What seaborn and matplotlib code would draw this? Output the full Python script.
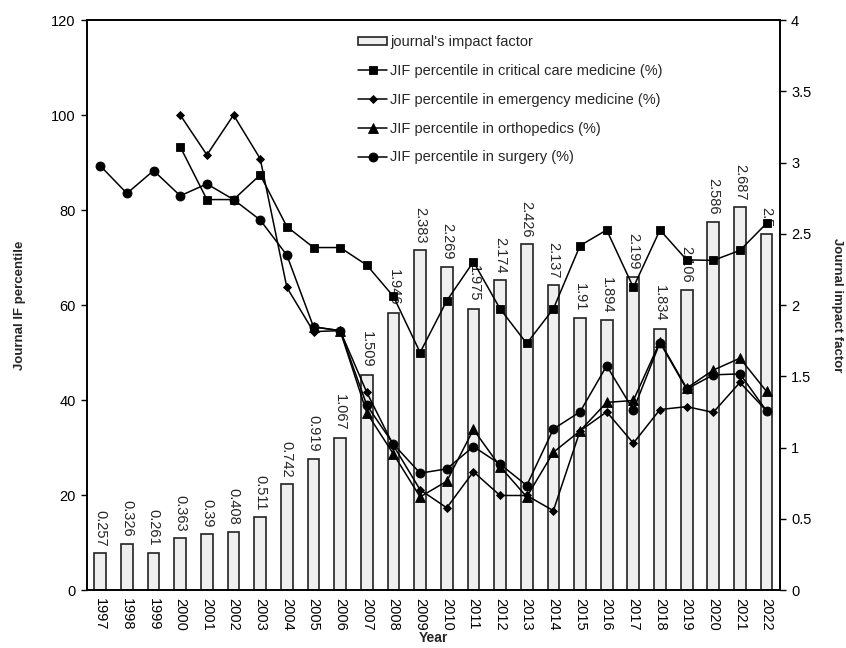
import numpy as np
import pandas as pd
import matplotlib
matplotlib.use("Agg")
import matplotlib.pyplot as plt
from matplotlib.ticker import FuncFormatter, MultipleLocator
import seaborn as sns

# ---- data -----------------------------------------------------------------
years = list(range(1997, 2023))

impact_factor = [0.257, 0.326, 0.261, 0.363, 0.39, 0.408, 0.511, 0.742, 0.919,
                 1.067, 1.509, 1.946, 2.383, 2.269, 1.975, 2.174, 2.426, 2.137,
                 1.91, 1.894, 2.199, 1.834, 2.106, 2.586, 2.687, 2.5]

critical_care = [None, None, None, 93.3, 82.2, 82.2, 87.4, 76.5, 72.1, 72.1,
                 68.4, 61.8, 50.0, 60.9, 69.1, 59.2, 51.9, 59.2, 72.5, 75.8,
                 63.7, 75.8, 69.5, 69.4, 71.5, 77.2]

emergency_medicine = [None, None, None, 100.0, 91.6, 100.0, 90.8, 63.7, 54.4,
                      54.6, 41.6, 30.4, 21.1, 17.3, 24.9, 19.9, 19.9, 16.7,
                      33.5, 37.5, 30.9, 38.0, 38.6, 37.4, 43.7, 37.7]

orthopedics = [None, None, None, None, None, None, None, None, 55.4, 54.6,
               37.3, 28.6, 19.6, 22.9, 33.8, 26.0, 19.6, 29.0, 33.5, 39.5,
               39.9, 52.3, 42.5, 46.3, 48.8, 41.8]

surgery = [89.3, 83.5, 88.3, 83.0, 85.5, 82.2, 77.9, 70.5, 55.4, 54.6, 38.9,
           30.7, 24.6, 25.5, 30.2, 26.5, 22.0, 33.9, 37.5, 47.2, 37.9, 52.1,
           42.3, 45.3, 45.5, 37.7]

series = [
    ("JIF percentile in critical care medicine (%)", critical_care, "s", 6.0),
    ("JIF percentile in emergency medicine (%)", emergency_medicine, "D", 3.8),
    ("JIF percentile in orthopedics (%)", orthopedics, "^", 6.5),
    ("JIF percentile in surgery (%)", surgery, "o", 6.5),
]

# ---- style ----------------------------------------------------------------
sns.set_style("white")
plt.rcParams["font.family"] = ["Liberation Sans", "DejaVu Sans"]
plt.rcParams["axes.edgecolor"] = "black"
plt.rcParams["axes.linewidth"] = 1.2
plt.rcParams["xtick.color"] = "black"
plt.rcParams["ytick.color"] = "black"

fig = plt.figure(figsize=(8.46, 6.48), dpi=100)
ax = fig.add_axes([0.1028, 0.0895, 0.8191, 0.8796])
ax2 = ax.twinx()

# bars: impact factor on the right-hand axis
df_if = pd.DataFrame({"year": years, "impact_factor": impact_factor})
sns.barplot(data=df_if, x="year", y="impact_factor", native_scale=True,
            width=0.44, color="#efefef", edgecolor="#222222", linewidth=1.2,
            saturation=1, errorbar=None, label="journal's impact factor", ax=ax2)
ax2.bar_label(ax2.containers[0], labels=[f"{v:g}" for v in impact_factor],
              rotation=270, padding=5, fontsize=10.5)

# lines: percentiles on the left-hand axis, drawn above the bars
ax.set_zorder(ax2.get_zorder() + 1)
ax.patch.set_visible(False)
for label, values, marker, ms in series:
    d = pd.DataFrame({"year": years, "pct": values}).dropna()
    sns.lineplot(data=d, x="year", y="pct", marker=marker, markersize=ms,
                 color="black", linewidth=1.1, markeredgecolor="black",
                 markeredgewidth=0.6, label=label, ax=ax)

# ---- axes -----------------------------------------------------------------
ax.set_xlim(1996.5, 2022.5)
ax.set_ylim(0, 120)
ax.yaxis.set_major_locator(MultipleLocator(20))
ax2.set_ylim(0, 4)
ax2.yaxis.set_major_locator(MultipleLocator(0.5))
ax2.yaxis.set_major_formatter(FuncFormatter(lambda v, _: f"{v:g}"))

ax.set_xticks(years)
ax.set_xticklabels([str(y) for y in years], rotation=270)
ax.tick_params(axis="x", length=0, pad=6, labelsize=10.5)
ax.tick_params(axis="y", length=4, width=1.0, pad=4, labelsize=10.5)
ax2.tick_params(axis="y", length=4, width=1.0, pad=4, labelsize=10.5)
ax2.tick_params(axis="x", length=0)

ax.set_xlabel("Year", fontsize=10, fontweight="bold", labelpad=0)
ax.set_ylabel("Journal IF percentile", fontsize=9.5, fontweight="bold",
              labelpad=18)
ax2.set_ylabel("Journal impact factor", fontsize=9.5, fontweight="bold",
               labelpad=14, rotation=270, va="bottom")

for a in (ax, ax2):
    for s in a.spines.values():
        s.set_visible(True)
        s.set_color("black")
        s.set_linewidth(1.2)

# ---- legend ---------------------------------------------------------------
hb, lb = ax2.get_legend_handles_labels()
hl, ll = ax.get_legend_handles_labels()
if ax2.get_legend() is not None:
    ax2.get_legend().remove()
ax.legend(hb + hl, lb + ll, loc="upper left",
          bbox_to_anchor=(358 / 846, 1 - 35 / 648),
          bbox_transform=fig.transFigure, frameon=False, fontsize=10.5,
          borderaxespad=0, borderpad=0, handlelength=2.0, handleheight=0.5,
          handletextpad=0.2, labelspacing=1.02)

fig.savefig("out.png", dpi=100)
